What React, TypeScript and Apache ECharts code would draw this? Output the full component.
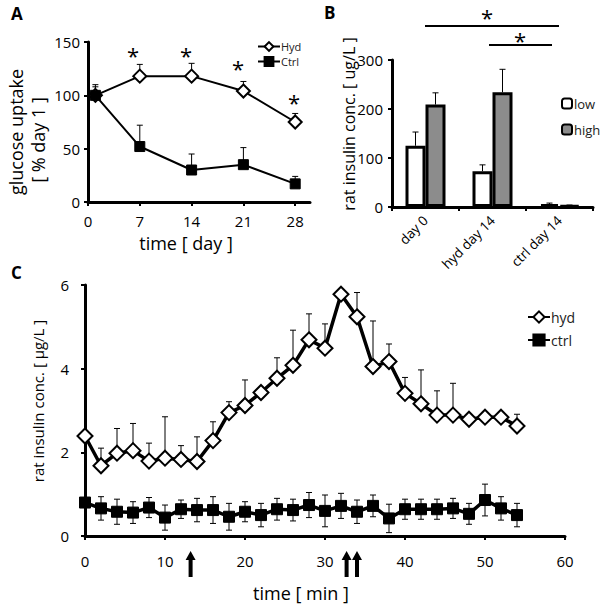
import React, { useEffect, useRef } from "react";
import * as echarts from "echarts";

// Panel A: glucose uptake
const daysA = [1, 7, 14, 21, 28];
const hydA = [100, 118, 118, 104, 75];
const hydAErrTop = [110, 129, 130, 113, 83];
const ctrlA = [100, 52, 30, 35, 17];
const ctrlAErrTop = [108, 72, 45, 51, 24];
const ticksAX = [0, 7, 14, 21, 28];

// Panel B: insulin bars
const catsB = ["day 0", "hyd day 14", "ctrl day 14"];
const lowB = [125, 73, 6];
const lowBErrTop = [153, 86, 8];
const highB = [209, 234, 3];
const highBErrTop = [233, 281, 4];

// Panel C: time course
const timesC = [0, 2, 4, 6, 8, 10, 12, 14, 16, 18, 20, 22, 24, 26, 28, 30, 32, 34, 36, 38, 40, 42, 44, 46, 48, 50, 52, 54];
const hydC = [2.39, 1.68, 1.98, 2.04, 1.79, 1.86, 1.83, 1.78, 2.28, 2.95, 3.12, 3.43, 3.77, 4.08, 4.69, 4.49, 5.78, 5.24, 4.05, 4.17, 3.41, 3.16, 2.89, 2.89, 2.79, 2.84, 2.84, 2.63];
const hydCErrTop = [2.39, 2.1, 2.57, 2.69, 2.22, 2.85, 2.16, 2.37, 2.73, 3.21, 3.73, 3.5, 4.26, 4.92, 5.31, 5.07, 5.78, 5.82, 5.14, 4.59, 3.79, 3.97, 3.47, 3.65, 2.79, 2.84, 2.84, 2.91];
const ctrlC = [0.8, 0.66, 0.58, 0.56, 0.68, 0.44, 0.64, 0.62, 0.62, 0.46, 0.58, 0.5, 0.64, 0.62, 0.74, 0.6, 0.72, 0.58, 0.72, 0.42, 0.64, 0.64, 0.64, 0.66, 0.53, 0.86, 0.66, 0.5];
const ctrlCErr = [0.0, 0.28, 0.3, 0.26, 0.24, 0.3, 0.22, 0.28, 0.32, 0.32, 0.24, 0.28, 0.26, 0.26, 0.3, 0.38, 0.3, 0.28, 0.26, 0.34, 0.24, 0.24, 0.24, 0.24, 0.25, 0.38, 0.28, 0.28];
const arrowsC = [13.2, 32.7, 34.0];

const FONT = "Open Sans";
const BLACK = "#000";

function errorBarSeries(
  name: string,
  xAxisIndex: number,
  yAxisIndex: number,
  data: number[][],
  offset = 0,
  bottomCap = false,
  cap = 3
) {
  return {
    type: "custom",
    name,
    xAxisIndex,
    yAxisIndex,
    z: 1,
    silent: true,
    encode: { x: 0, y: [1, 2] },
    data,
    renderItem: (params: any, api: any) => {
      const x = api.value(0);
      const lo = api.value(1);
      const hi = api.value(2);
      if (hi - lo < 1e-9) return { type: "group", children: [] };
      const pT = api.coord([x, hi]);
      const pB = api.coord([x, lo]);
      const cx = pT[0] + offset;
      const children: any[] = [
        { type: "line", shape: { x1: cx, y1: pT[1], x2: cx, y2: pB[1] }, style: { stroke: BLACK, lineWidth: 1 } },
        { type: "line", shape: { x1: cx - cap, y1: pT[1], x2: cx + cap, y2: pT[1] }, style: { stroke: BLACK, lineWidth: 1 } },
      ];
      if (bottomCap) {
        children.push({ type: "line", shape: { x1: cx - cap, y1: pB[1], x2: cx + cap, y2: pB[1] }, style: { stroke: BLACK, lineWidth: 1 } });
      }
      return { type: "group", children };
    },
  };
}

function arrowPoints(cx: number, top: number, bottom: number) {
  const hw = 5;
  const sw = 2;
  const hh = 9;
  return [
    [cx, top],
    [cx + hw, top + hh],
    [cx + sw, top + hh],
    [cx + sw, bottom],
    [cx - sw, bottom],
    [cx - sw, top + hh],
    [cx - hw, top + hh],
  ];
}

export default function App() {
  const ref = useRef<HTMLDivElement>(null);
  useEffect(() => {
    if (!ref.current) return;
    const chart = echarts.init(ref.current, null, { renderer: "svg" });

    const axisLine = { show: true, lineStyle: { color: BLACK, width: 3 } };
    const axisTick = { show: true, length: 4, lineStyle: { color: BLACK, width: 2 } };
    const labelStyle = { color: BLACK, fontFamily: FONT, fontSize: 15 };

    const gridCLeft = 85;
    const gridCWidth = 480;
    const xC = (t: number) => gridCLeft + (t / 60) * gridCWidth;

    const star = (x: number, y: number) => ({
      type: "text", x, y,
      style: { text: "*", font: `22px "${FONT}"`, fill: BLACK, align: "center", verticalAlign: "middle" },
    });

    const option: any = {
      animation: false,
      backgroundColor: "#fff",
      textStyle: { fontFamily: FONT },
      grid: [
        { left: 88, top: 42, width: 222, height: 160 },
        { left: 392, top: 60, width: 201, height: 147 },
        { left: gridCLeft, top: 285, width: gridCWidth, height: 251 },
      ],
      xAxis: [
        {
          type: "value", gridIndex: 0, min: 0, max: 30,
          axisLine, axisTick: { ...axisTick, customValues: ticksAX },
          splitLine: { show: false },
          axisLabel: { ...labelStyle, margin: 11, customValues: ticksAX },
        },
        {
          type: "category", gridIndex: 1, data: catsB,
          axisLine, axisTick: { ...axisTick, length: 4 },
          axisLabel: { color: BLACK, fontFamily: FONT, fontSize: 13.5, rotate: 45, margin: 11, interval: 0 },
        },
        {
          type: "value", gridIndex: 2, min: 0, max: 60, interval: 10,
          axisLine, axisTick, splitLine: { show: false },
          axisLabel: { ...labelStyle, margin: 17 },
        },
      ],
      yAxis: [
        {
          type: "value", gridIndex: 0, min: 0, max: 150, interval: 50,
          axisLine, axisTick, splitLine: { show: false },
          axisLabel: { ...labelStyle, margin: 8 },
        },
        {
          type: "value", gridIndex: 1, min: 0, max: 300, interval: 100,
          axisLine, axisTick, splitLine: { show: false },
          axisLabel: { ...labelStyle, margin: 9 },
        },
        {
          type: "value", gridIndex: 2, min: 0, max: 6, interval: 2,
          axisLine, axisTick, splitLine: { show: false },
          axisLabel: { ...labelStyle, margin: 16 },
        },
      ],
      legend: [
        {
          orient: "vertical", left: 252, top: 36, itemWidth: 22, itemHeight: 11, itemGap: 4,
          data: ["Hyd", "Ctrl"],
          textStyle: { color: "#222", fontFamily: FONT, fontSize: 11, lineHeight: 11, padding: [0, 0, 0, -4] },
        },
        {
          orient: "vertical", left: 556, top: 92, itemWidth: 10, itemHeight: 10, itemGap: 13,
          data: ["low", "high"],
          textStyle: { color: "#222", fontFamily: FONT, fontSize: 13, lineHeight: 13, padding: [0, 0, 0, -3] },
        },
        {
          orient: "vertical", left: 522, top: 305, itemWidth: 22, itemHeight: 14, itemGap: 9,
          data: ["hyd", "ctrl"],
          textStyle: { color: "#222", fontFamily: FONT, fontSize: 14, lineHeight: 14, padding: [0, 0, 0, -4] },
        },
      ],
      series: [
        // Panel A
        errorBarSeries("errA1", 0, 0, daysA.map((d, i) => [d, hydA[i], hydAErrTop[i]])),
        errorBarSeries("errA2", 0, 0, daysA.map((d, i) => [d, ctrlA[i], ctrlAErrTop[i]])),
        {
          type: "line", name: "Hyd", xAxisIndex: 0, yAxisIndex: 0, z: 3,
          data: daysA.map((d, i) => [d, hydA[i]]),
          symbol: "diamond", symbolSize: 13,
          lineStyle: { color: BLACK, width: 2 },
          itemStyle: { color: "#fff", borderColor: BLACK, borderWidth: 2 },
        },
        {
          type: "line", name: "Ctrl", xAxisIndex: 0, yAxisIndex: 0, z: 3,
          data: daysA.map((d, i) => [d, ctrlA[i]]),
          symbol: "rect", symbolSize: 10,
          lineStyle: { color: BLACK, width: 2 },
          itemStyle: { color: BLACK, borderColor: BLACK, borderWidth: 1 },
        },
        // Panel B
        {
          type: "bar", name: "low", xAxisIndex: 1, yAxisIndex: 1, z: 2,
          data: lowB, barWidth: 20, barGap: "0%",
          itemStyle: { color: "#fff", borderColor: BLACK, borderWidth: 3 },
        },
        {
          type: "bar", name: "high", xAxisIndex: 1, yAxisIndex: 1, z: 2,
          data: highB, barWidth: 20, barGap: "0%",
          itemStyle: { color: "#8c8c8c", borderColor: BLACK, borderWidth: 3 },
        },
        errorBarSeries("errB1", 1, 1, catsB.map((c, i) => [i, lowB[i], lowBErrTop[i]]), -10),
        errorBarSeries("errB2", 1, 1, catsB.map((c, i) => [i, highB[i], highBErrTop[i]]), 10),
        // Panel C
        errorBarSeries("errC1", 2, 2, timesC.map((t, i) => [t, hydC[i], hydCErrTop[i]])),
        errorBarSeries("errC2", 2, 2, timesC.map((t, i) => [t, ctrlC[i] - ctrlCErr[i], ctrlC[i] + ctrlCErr[i]]), 0, true),
        {
          type: "line", name: "hyd", xAxisIndex: 2, yAxisIndex: 2, z: 3,
          data: timesC.map((t, i) => [t, hydC[i]]),
          symbol: "diamond", symbolSize: 15,
          lineStyle: { color: BLACK, width: 3.5 },
          itemStyle: { color: "#fff", borderColor: BLACK, borderWidth: 2 },
        },
        {
          type: "line", name: "ctrl", xAxisIndex: 2, yAxisIndex: 2, z: 3,
          data: timesC.map((t, i) => [t, ctrlC[i]]),
          symbol: "rect", symbolSize: 11,
          lineStyle: { color: BLACK, width: 3.5 },
          itemStyle: { color: BLACK, borderColor: BLACK, borderWidth: 1 },
        },
      ],
      graphic: [
        // panel letters
        { type: "text", left: 11, top: 5, style: { text: "A", font: `bold 17px "${FONT}"`, fill: BLACK } },
        { type: "text", left: 324, top: 4, style: { text: "B", font: `bold 17px "${FONT}"`, fill: BLACK } },
        { type: "text", left: 11, top: 264, style: { text: "C", font: `bold 17px "${FONT}"`, fill: BLACK } },
        // axis titles
        { type: "text", x: 16, y: 132, rotation: Math.PI / 2, style: { text: "glucose uptake", font: `18px "${FONT}"`, fill: BLACK, align: "center", verticalAlign: "middle" } },
        { type: "text", x: 38, y: 140, rotation: Math.PI / 2, style: { text: "[ % day 1 ]", font: `18px "${FONT}"`, fill: BLACK, align: "center", verticalAlign: "middle" } },
        { type: "text", x: 186, y: 243, style: { text: "time [ day ]", font: `18px "${FONT}"`, fill: BLACK, align: "center", verticalAlign: "middle" } },
        { type: "text", x: 349, y: 124, rotation: Math.PI / 2, style: { text: "rat insulin conc. [ ug/L ]", font: `16px "${FONT}"`, fill: BLACK, align: "center", verticalAlign: "middle" } },
        { type: "text", x: 38, y: 401, rotation: Math.PI / 2, style: { text: "rat insulin conc. [ μg/L ]", font: `15px "${FONT}"`, fill: BLACK, align: "center", verticalAlign: "middle" } },
        { type: "text", x: 301, y: 593, style: { text: "time [ min ]", font: `18px "${FONT}"`, fill: BLACK, align: "center", verticalAlign: "middle" } },
        // significance stars panel A
        star(133, 55),
        star(186, 55),
        star(238, 68),
        star(294, 102),
        // significance panel B
        { type: "line", shape: { x1: 425, y1: 26, x2: 559, y2: 26 }, style: { stroke: BLACK, lineWidth: 2 } },
        { type: "line", shape: { x1: 489, y1: 45, x2: 552, y2: 45 }, style: { stroke: BLACK, lineWidth: 2 } },
        star(487, 17),
        star(520, 40),
        // arrows panel C
        ...arrowsC.map((t) => ({
          type: "polygon",
          shape: { points: arrowPoints(xC(t), 551, 577) },
          style: { fill: BLACK },
        })),
      ],
    };

    chart.setOption(option);
    return () => chart.dispose();
  }, []);

  return (
    <div
      ref={ref}
      style={{ position: "fixed", left: 0, top: 0, width: 602, height: 607, background: "#fff" }}
    />
  );
}
